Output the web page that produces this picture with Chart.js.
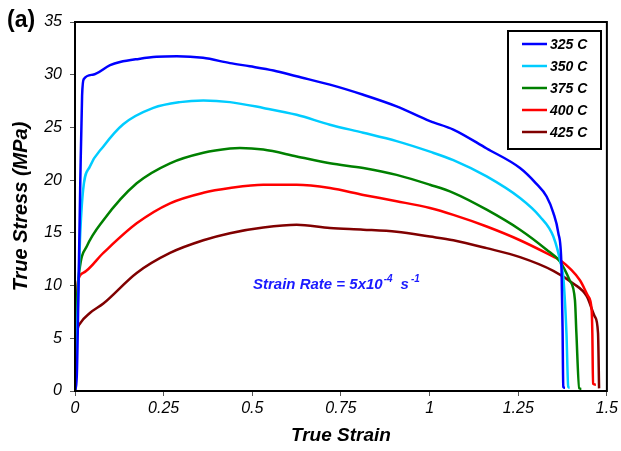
<!DOCTYPE html>
<html>
<head>
<meta charset="utf-8">
<script src="https://cdn.jsdelivr.net/npm/chart.js@4"></script>
<style>
  html, body { margin: 0; padding: 0; background: #fff; }
  #wrap { width: 621px; height: 451px; }
</style>
</head>
<body>
<div id="wrap"><canvas id="stressChart" width="621" height="451"></canvas></div>
<script>
// true stress-strain curves at a strain rate of 5x10^-4 1/s
const temps = ['325 C', '350 C', '375 C', '400 C', '425 C'];
const colors = ['#0000ff', '#00ccff', '#008000', '#ff0000', '#800000'];
const xTicks = [0, 0.25, 0.5, 0.75, 1, 1.25, 1.5];
const yTicks = [0, 5, 10, 15, 20, 25, 30, 35];

const strain325 = [0, 0.005, 0.01, 0.015, 0.02, 0.025, 0.05, 0.099, 0.127, 0.18, 0.23, 0.287, 0.361, 0.437, 0.493, 0.56, 0.625, 0.719, 0.813, 0.907, 1.001, 1.067, 1.161, 1.255, 1.30, 1.33, 1.349, 1.363, 1.372, 1.375, 1.377, 1.382];
const stress325 = [0, 1.4, 10, 20, 28, 29.6, 30.0, 30.9, 31.2, 31.5, 31.7, 31.75, 31.6, 31.1, 30.8, 30.4, 29.85, 29.06, 28.1, 27.0, 25.6, 24.8, 23.0, 21.15, 19.7, 18.45, 16.9, 15.0, 11.8, 6.0, 0.4, 0.3];

const strain350 = [0, 0.005, 0.01, 0.014, 0.023, 0.042, 0.08, 0.136, 0.221, 0.296, 0.362, 0.437, 0.531, 0.625, 0.719, 0.813, 0.907, 1.001, 1.067, 1.161, 1.255, 1.311, 1.349, 1.372, 1.377, 1.386, 1.391, 1.395];
const stress350 = [0, 5, 10, 14.3, 19.1, 21.3, 23.2, 25.3, 26.85, 27.4, 27.55, 27.4, 26.85, 26.2, 25.26, 24.5, 23.7, 22.7, 21.9, 20.35, 18.3, 16.55, 14.65, 11.8, 10.85, 5.5, 0.4, 0.3];

const strain375 = [0, 0.005, 0.014, 0.033, 0.08, 0.174, 0.268, 0.362, 0.437, 0.465, 0.531, 0.625, 0.719, 0.813, 0.907, 1.001, 1.067, 1.161, 1.255, 1.33, 1.367, 1.395, 1.41, 1.414, 1.422, 1.428];
const stress375 = [0, 8.0, 11.8, 13.7, 16.2, 19.7, 21.6, 22.6, 23.0, 23.05, 22.9, 22.25, 21.6, 21.15, 20.5, 19.56, 18.8, 17.2, 15.3, 13.4, 12.3, 10.5, 8.6, 5.5, 0.25, 0.2];

const strain400 = [0, 0.003, 0.009, 0.023, 0.08, 0.174, 0.268, 0.362, 0.437, 0.531, 0.625, 0.719, 0.813, 0.907, 1.001, 1.067, 1.161, 1.255, 1.349, 1.367, 1.424, 1.447, 1.457, 1.459, 1.461, 1.469];
const stress400 = [0, 5.8, 10.5, 11.2, 13.1, 15.9, 17.8, 18.8, 19.25, 19.56, 19.56, 19.25, 18.6, 18.0, 17.35, 16.7, 15.6, 14.3, 12.75, 12.44, 10.5, 9.0, 7.7, 5.5, 0.7, 0.6];

const strain425 = [0, 0.005, 0.014, 0.042, 0.08, 0.174, 0.268, 0.362, 0.437, 0.531, 0.625, 0.719, 0.813, 0.907, 1.001, 1.067, 1.161, 1.255, 1.349, 1.405, 1.443, 1.466, 1.475, 1.478];
const stress425 = [0, 5.2, 6.4, 7.4, 8.3, 11.2, 13.1, 14.3, 14.97, 15.5, 15.76, 15.45, 15.3, 15.1, 14.65, 14.3, 13.55, 12.7, 11.4, 10.2, 9.0, 7.05, 5.5, 0.25];

const strains = [strain325, strain350, strain375, strain400, strain425];
const stresses = [stress325, stress350, stress375, stress400, stress425];

const noteText = 'Strain Rate = 5x10';
const noteExp1 = '-4';
const noteUnit = 's';
const noteExp2 = '-1';

const FONT = '"Liberation Sans", Arial, sans-serif';

// frame, panel tag, legend box and note
const extras = {
  id: 'extras',
  afterDraw(chart) {
    const ctx = chart.ctx;
    const a = chart.chartArea;
    ctx.save();
    ctx.strokeStyle = '#000';
    ctx.lineWidth = 2;
    ctx.strokeRect(a.left, a.top, a.right - a.left, a.bottom - a.top);

    ctx.fillStyle = '#000';
    ctx.font = 'bold 23px ' + FONT;
    ctx.textBaseline = 'middle';
    ctx.textAlign = 'left';
    ctx.fillText('(a)', 7, 21);

    // legend
    const lx = 508, ly = 31, lw = 93, lh = 118;
    ctx.fillStyle = '#fff';
    ctx.fillRect(lx, ly, lw, lh);
    ctx.lineWidth = 2;
    ctx.strokeStyle = '#000';
    ctx.strokeRect(lx, ly, lw, lh);
    ctx.font = 'italic bold 14px ' + FONT;
    chart.data.datasets.forEach((ds, i) => {
      const y = 44 + i * 22;
      ctx.strokeStyle = ds.borderColor;
      ctx.lineWidth = 2.5;
      ctx.beginPath();
      ctx.moveTo(522, y);
      ctx.lineTo(547, y);
      ctx.stroke();
      ctx.fillStyle = '#000';
      ctx.fillText(ds.label, 550, y + 1);
    });

    // strain-rate note with superscripts
    ctx.fillStyle = '#1a1aff';
    ctx.textBaseline = 'alphabetic';
    let x = 253;
    const base = 289;
    ctx.font = 'italic bold 15px ' + FONT;
    ctx.fillText(noteText, x, base);
    x += ctx.measureText(noteText).width + 1;
    ctx.font = 'italic bold 10px ' + FONT;
    ctx.fillText(noteExp1, x, base - 7);
    x += ctx.measureText(noteExp1).width + 8;
    ctx.font = 'italic bold 15px ' + FONT;
    ctx.fillText(noteUnit, x, base);
    x += ctx.measureText(noteUnit).width + 2;
    ctx.font = 'italic bold 10px ' + FONT;
    ctx.fillText(noteExp2, x, base - 7);
    ctx.restore();
  }
};

const datasets = temps.map((t, i) => ({
  label: t,
  data: strains[i].map((s, j) => ({ x: s, y: stresses[i][j] })),
  borderColor: colors[i],
  backgroundColor: colors[i],
  borderWidth: 2.5,
  pointRadius: 0,
  fill: false,
  cubicInterpolationMode: 'monotone'
}));

new Chart(document.getElementById('stressChart').getContext('2d'), {
  type: 'line',
  data: { datasets: datasets },
  options: {
    responsive: false,
    animation: false,
    layout: { padding: { left: 0, top: 22, right: 14, bottom: 0 } },
    plugins: {
      legend: { display: false },
      tooltip: { enabled: false }
    },
    scales: {
      x: {
        type: 'linear',
        min: 0,
        max: 1.5,
        afterFit: s => { s.height = 60; },
        afterBuildTicks: s => { s.ticks = xTicks.map(v => ({ value: v })); },
        ticks: {
          autoSkip: false,
          maxRotation: 0,
          color: '#000',
          padding: 3,
          callback: v => String(v),
          font: { family: FONT, size: 16, style: 'italic' }
        },
        grid: { drawOnChartArea: false, tickLength: 5, color: '#555' },
        border: { color: '#000', width: 2 },
        title: {
          display: true,
          text: 'True Strain',
          color: '#000',
          padding: { top: 0, bottom: 4 },
          font: { family: FONT, size: 19, weight: 'bold', style: 'italic' }
        }
      },
      y: {
        min: 0,
        max: 35,
        afterFit: s => { s.width = 75; },
        afterBuildTicks: s => { s.ticks = yTicks.map(v => ({ value: v })); },
        ticks: {
          autoSkip: false,
          color: '#000',
          padding: 8,
          callback: v => String(v),
          font: { family: FONT, size: 16, style: 'italic' }
        },
        grid: { drawOnChartArea: false, tickLength: 5, color: '#555' },
        border: { color: '#000', width: 2 },
        title: {
          display: true,
          text: 'True Stress (MPa)',
          color: '#000',
          padding: { top: 9, bottom: 0 },
          font: { family: FONT, size: 20, weight: 'bold', style: 'italic' }
        }
      }
    }
  },
  plugins: [extras]
});
</script>
</body>
</html>
